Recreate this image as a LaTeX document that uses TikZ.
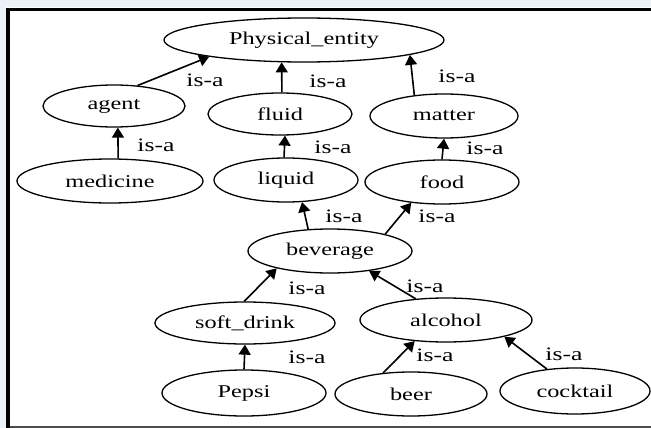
\documentclass[tikz,border=0pt]{standalone}
\usepackage{fontspec}
\setmainfont[FakeStretch=1.35]{Liberation Serif}
\usetikzlibrary{shapes.geometric,arrows.meta}
\definecolor{margin}{RGB}{236,241,248}
\begin{document}
\begin{tikzpicture}[x=1pt,y=-1pt,
  ent/.style={ellipse,draw=black,line width=1.3pt,inner sep=0pt,font=\fontsize{18}{20}\selectfont},
  arr/.style={line width=1.6pt,-{Triangle[length=10pt,width=12pt]}},
  lab/.style={font=\fontsize{19}{21}\selectfont,inner sep=0pt}]
\useasboundingbox (0,0) rectangle (651,428);
\fill[white] (0,0) rectangle (651,428);
\fill[margin] (0,0) rectangle (6,428);
\fill[margin] (0,0) rectangle (651,7);
\draw[line width=3.5pt] (7.75,428) -- (7.75,9.5) -- (651,9.5);
\draw[line width=2.5pt,black!70] (9.5,426.75) -- (651,426.75);

\node[ent,minimum width=280pt,minimum height=44pt] (pe) at (304,40) {Physical\_entity};
\node[ent,minimum width=142pt,minimum height=42pt] (agent) at (114,106) {agent};
\node[ent,minimum width=144pt,minimum height=42pt] (fluid) at (280,114) {fluid};
\node[ent,minimum width=148pt,minimum height=44pt] (matter) at (444,116) {matter};
\node[ent,minimum width=186pt,minimum height=44pt] (medicine) at (110,181) {medicine};
\node[ent,minimum width=144pt,minimum height=44pt] (liquid) at (286,180) {liquid};
\node[ent,minimum width=154pt,minimum height=44pt] (food) at (442,182) {food};
\node[ent,minimum width=164pt,minimum height=44pt] (bev) at (330,251) {beverage};
\node[ent,minimum width=180pt,minimum height=42pt] (soft) at (245,323) {soft\_drink};
\node[ent,minimum width=172pt,minimum height=44pt] (alc) at (446,320) {alcohol};
\node[ent,minimum width=164pt,minimum height=46pt] (pepsi) at (244,393) {Pepsi};
\node[ent,minimum width=152pt,minimum height=44pt] (beer) at (411,394) {beer};
\node[ent,minimum width=150pt,minimum height=46pt] (cocktail) at (575,391) {cocktail};

\draw[arr] (agent.41) -- (pe.190.5);
\draw[arr] (fluid.85) -- (pe.225);
\draw[arr] (matter.145) -- (pe.352);
\draw[arr] (medicine.70) -- (agent.280);
\draw[arr] (liquid.95) -- (fluid.283);
\draw[arr] (food.north) -- (matter.south);
\draw[arr] (bev.135) -- (liquid.306);
\draw[arr] (bev.17) -- (food.214.5);
\draw[arr] (soft.92) -- (bev.198);
\draw[arr] (alc.145) -- (bev.333);
\draw[arr] (pepsi.north) -- (soft.south);
\draw[arr] (beer.143) -- (alc.214.5);
\draw[arr] (cocktail.142) -- (alc.344);

\node[lab] (l1) at (205,80) {is-a};
\node[lab] (l2) at (328,81) {is-a};
\node[lab] (l3) at (457,76) {is-a};
\node[lab] (l4) at (156,145) {is-a};
\node[lab] (l5) at (333,147) {is-a};
\node[lab] (l6) at (485,148) {is-a};
\node[lab] (l7) at (344,216) {is-a};
\node[lab] (l8) at (437,216) {is-a};
\node[lab] (l9) at (307,288) {is-a};
\node[lab] (l10) at (425,286) {is-a};
\node[lab] (l11) at (307,357) {is-a};
\node[lab] (l12) at (435,355) {is-a};
\node[lab] (l13) at (564,354) {is-a};
\end{tikzpicture}
\end{document}
